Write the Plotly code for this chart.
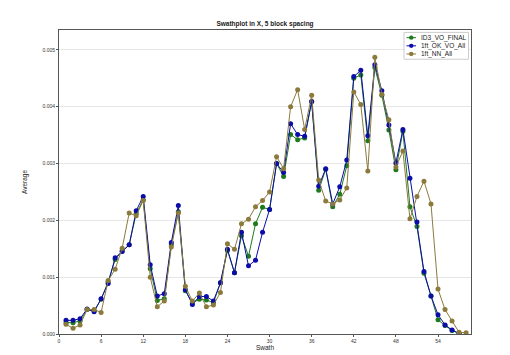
import plotly.graph_objects as go

swath = list(range(1, 59))

id3_vo_final = [0.00020, 0.00020, 0.00023, 0.00043, 0.00041, 0.00061, 0.00092, 0.00131, 0.00146, 0.00157,
                0.00212, 0.00236, 0.00115, 0.00059, 0.00062, 0.00157, 0.00215, 0.00076, 0.00055, 0.00061,
                0.00060, 0.00055, 0.00090, 0.00147, 0.00108, 0.00173, 0.00137, 0.00194, 0.00223, 0.00219,
                0.00300, 0.00277, 0.00351, 0.00342, 0.00345, 0.00409, 0.00253, 0.00290, 0.00224, 0.00246,
                0.00296, 0.00450, 0.00456, 0.00340, 0.00469, 0.00420, 0.00359, 0.00289, 0.00357, 0.00224,
                0.00189, 0.00107, 0.00067, 0.00025, 0.00015, 0.00006, 0.00001]
ok_vo_all = [0.00024, 0.00024, 0.00027, 0.00044, 0.00039, 0.00062, 0.00089, 0.00134, 0.00145, 0.00157,
             0.00217, 0.00242, 0.00122, 0.00067, 0.00071, 0.00161, 0.00226, 0.00078, 0.00052, 0.00066,
             0.00066, 0.00058, 0.00090, 0.00149, 0.00108, 0.00179, 0.00120, 0.00130, 0.00179, 0.00219,
             0.00300, 0.00284, 0.00370, 0.00351, 0.00348, 0.00409, 0.00260, 0.00291, 0.00229, 0.00259,
             0.00306, 0.00453, 0.00464, 0.00349, 0.00474, 0.00428, 0.00368, 0.00301, 0.00360, 0.00274,
             0.00197, 0.00110, 0.00067, 0.00034, 0.00016, 0.00007, 0.00001]
nn_all = [0.00017, 0.00010, 0.00016, 0.00043, 0.00043, 0.00038, 0.00094, 0.00114, 0.00151, 0.00213,
          0.00208, 0.00235, 0.00100, 0.00048, 0.00058, 0.00153, 0.00213, 0.00084, 0.00058, 0.00072,
          0.00048, 0.00051, 0.00073, 0.00159, 0.00149, 0.00194, 0.00202, 0.00224, 0.00235, 0.00250,
          0.00312, 0.00291, 0.00400, 0.00430, 0.00360, 0.00420, 0.00271, 0.00234, 0.00229, 0.00236,
          0.00257, 0.00426, 0.00404, 0.00287, 0.00487, 0.00422, 0.00377, 0.00294, 0.00322, 0.00203,
          0.00242, 0.00269, 0.00229, 0.00079, 0.00043, 0.00023, 0.00003, 0.00002]

x_ticks = [0, 6, 12, 18, 24, 30, 36, 42, 48, 54]
y_ticks = [0.000, 0.001, 0.002, 0.003, 0.004, 0.005]

series_names = ["ID3_VO_FINAL", "1ft_OK_VO_All", "1ft_NN_All"]
series_values = [id3_vo_final, ok_vo_all, nn_all]
series_colors = ["#1f7a1f", "#0c0ca8", "#8c7a3c"]

W, H = 510, 355
ML, MR, MT, MB = 51, 47, 22, 16
PW, PH = W - ML - MR, H - MT - MB


def px(x):
    return (x - ML) / PW


def py(y):
    return (H - MB - y) / PH


fig = go.Figure()
for name, vals, col in zip(series_names, series_values, series_colors):
    fig.add_trace(go.Scatter(
        x=swath[:len(vals)], y=vals, name=name, mode="lines+markers",
        line=dict(color=col, width=1),
        marker=dict(color=col, size=5),
        showlegend=False,
    ))

# compact legend box (matplotlib style)
shapes = [dict(type="rect", xref="paper", yref="paper",
               x0=px(396), x1=px(460.5), y0=py(52.5), y1=py(24.5),
               line=dict(color="#cccccc", width=1), fillcolor="white", layer="above")]
annotations = []
entry_y = [30, 38.5, 47]
for name, col, ey in zip(series_names, series_colors, entry_y):
    shapes.append(dict(type="line", xref="paper", yref="paper",
                       x0=px(398.5), x1=px(408), y0=py(ey), y1=py(ey),
                       line=dict(color=col, width=1), layer="above"))
    shapes.append(dict(type="circle", xref="paper", yref="paper",
                       x0=px(401), x1=px(405.5), y0=py(ey + 2.25), y1=py(ey - 2.25),
                       line=dict(color=col, width=0), fillcolor=col, layer="above"))
    annotations.append(dict(text=name, xref="paper", yref="paper",
                            x=px(410.5), y=py(ey), xanchor="left", yanchor="middle",
                            showarrow=False, font=dict(size=6.5, color="#222")))

font = "Liberation Sans, Arial, sans-serif"
fig.update_layout(
    width=W, height=H,
    margin=dict(l=ML, r=MR, t=MT, b=MB),
    paper_bgcolor="white", plot_bgcolor="white",
    font=dict(family=font, size=5, color="#333"),
    title=dict(text="<b>Swathplot in X, 5 block spacing</b>", x=0.5, xref="paper",
               y=1, yref="paper", yanchor="bottom", pad=dict(b=4),
               font=dict(size=6.5, color="#222")),
    showlegend=False,
    shapes=shapes,
    annotations=annotations,
    xaxis=dict(range=[0, 58.7], tickvals=x_ticks, showgrid=False, zeroline=False,
               showline=True, mirror=True, linecolor="#555", linewidth=1,
               ticks="outside", ticklen=2, tickcolor="#555",
               title=dict(text="Swath", standoff=2, font=dict(size=6.5, color="#222"))),
    yaxis=dict(range=[0, 0.00535], tickvals=y_ticks, tickformat=".3f",
               showgrid=True, gridcolor="#e6e6e6", gridwidth=1, zeroline=False,
               showline=True, mirror=True, linecolor="#555", linewidth=1,
               ticks="outside", ticklen=2, tickcolor="#555",
               title=dict(text="Average", standoff=14, font=dict(size=6.5, color="#222"))),
)

fig.write_html("out.html")
